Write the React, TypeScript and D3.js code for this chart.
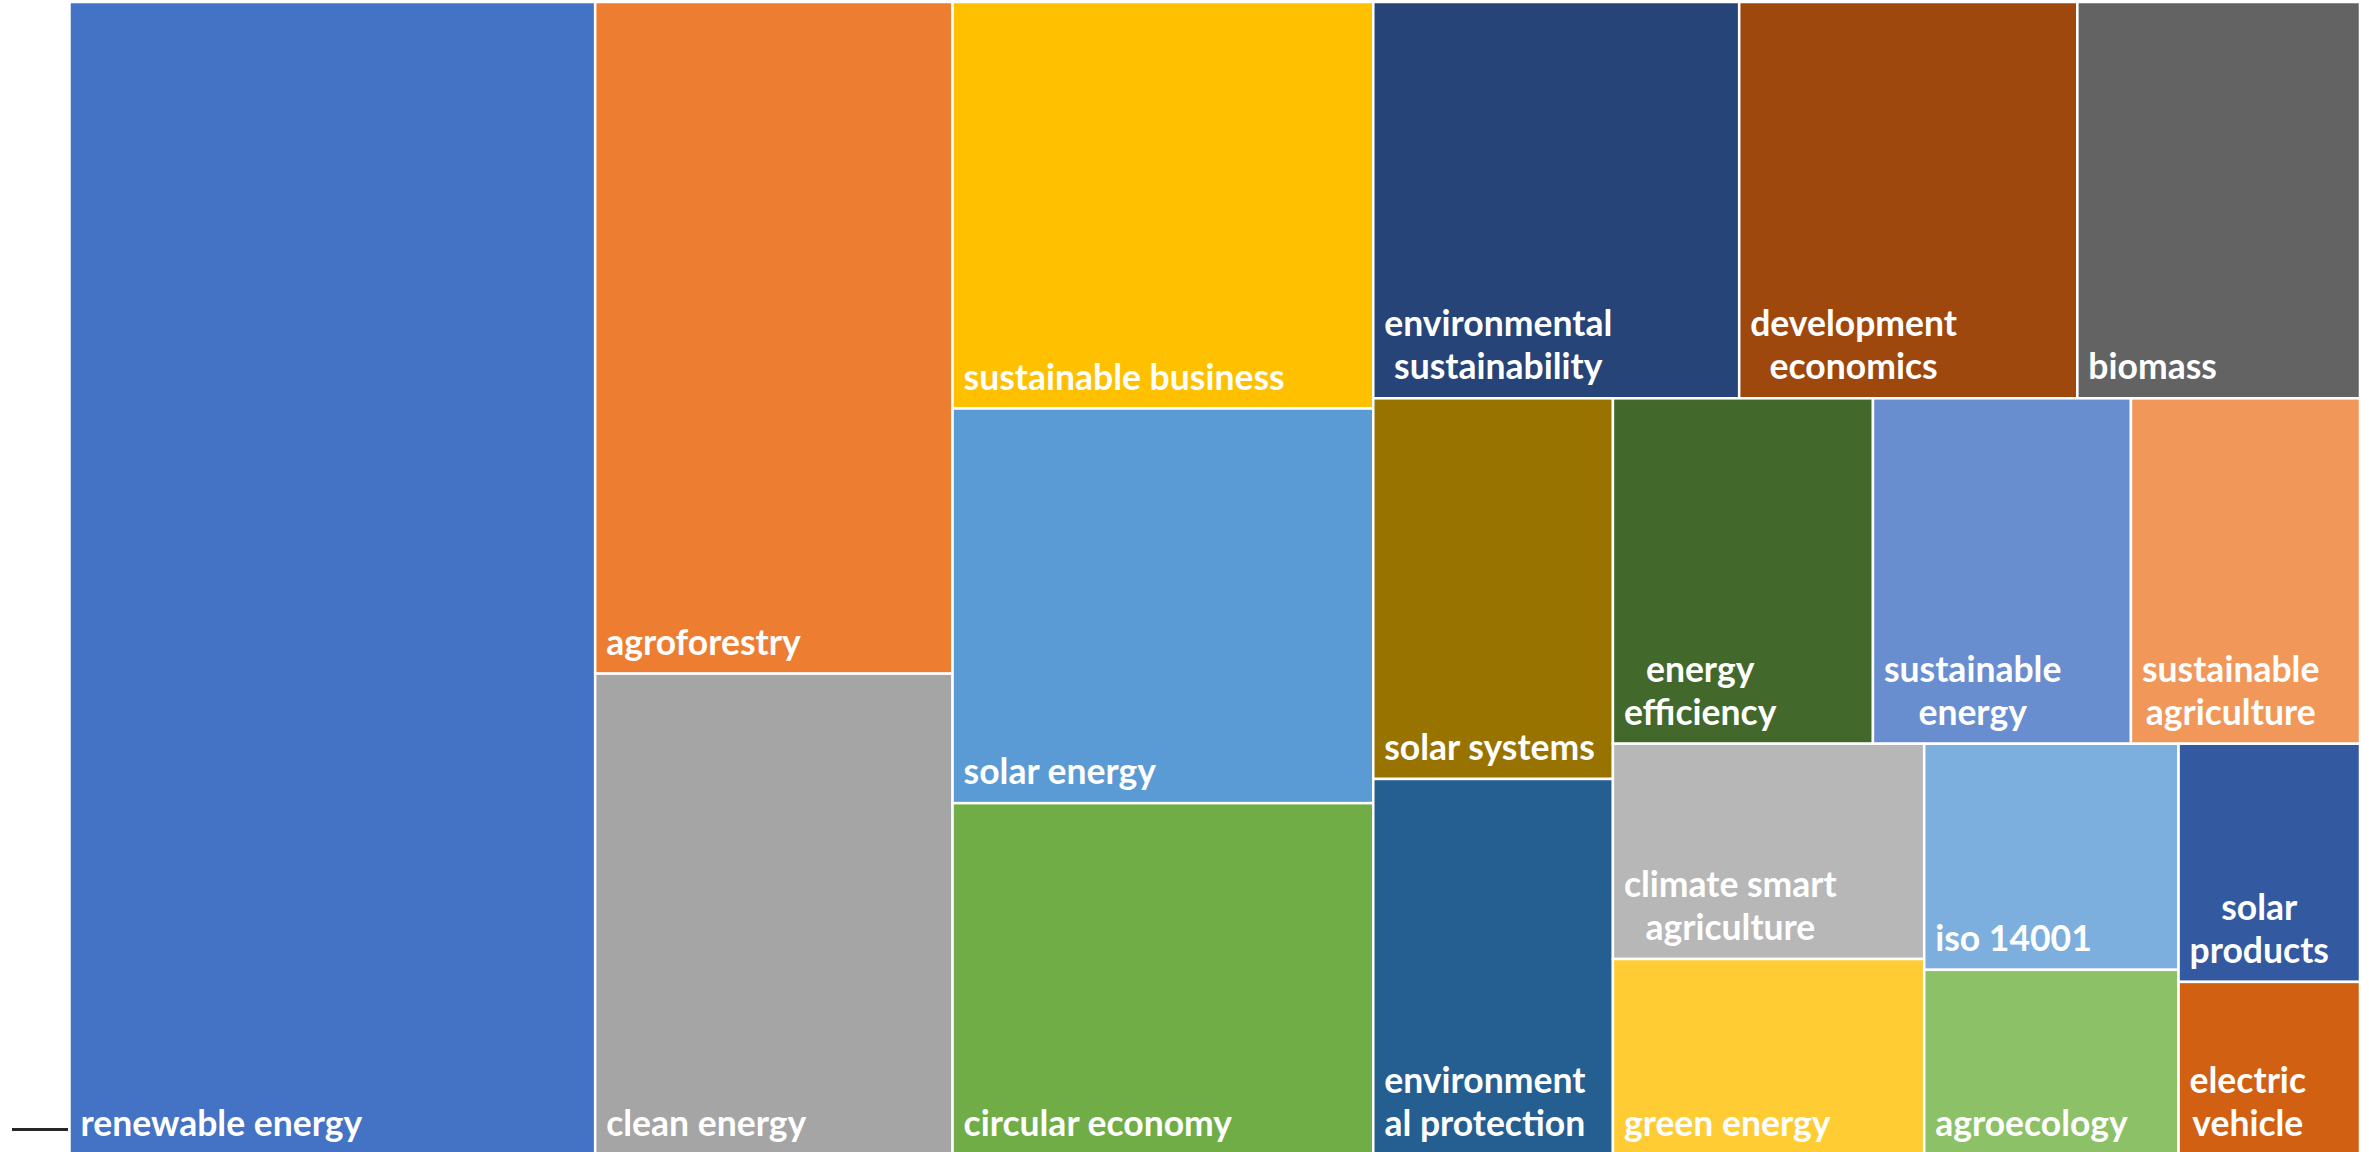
import React, { useEffect, useRef } from "react";
import * as d3 from "d3";

const categories = [
  "renewable energy", "agroforestry", "clean energy", "sustainable business", "solar energy",
  "circular economy", "environmental sustainability", "development economics", "biomass",
  "solar systems", "environmental protection", "energy efficiency", "sustainable energy",
  "sustainable agriculture", "climate smart agriculture", "green energy", "iso 14001",
  "agroecology", "solar products", "electric vehicle",
];

const values = [
  606, 240, 172, 171, 166,
  148, 145, 134, 112,
  91.2, 90.1, 89.8, 89.1,
  79.1, 67, 61, 57.5,
  47.1, 43.2, 31.4,
];

const labelLines = [
  ["renewable energy"], ["agroforestry"], ["clean energy"], ["sustainable business"], ["solar energy"],
  ["circular economy"], ["environmental", "sustainability"], ["development", "economics"], ["biomass"],
  ["solar systems"], ["environment", "al protection"], ["energy", "efficiency"], ["sustainable", "energy"],
  ["sustainable", "agriculture"], ["climate smart", "agriculture"], ["green energy"], ["iso 14001"],
  ["agroecology"], ["solar", "products"], ["electric", "vehicle"],
];

const colors = [
  "#4472C4", "#ED7D31", "#A5A5A5", "#FFC000", "#5B9BD5",
  "#70AD47", "#264478", "#9E480E", "#636363",
  "#997300", "#255E91", "#43682B", "#698ED0",
  "#F1975A", "#B7B7B7", "#FFCD33", "#7CAFDD",
  "#8CC168", "#335AA1", "#D26012",
];

// number of items placed in each successive strip of the tiling
const stripSizes = [1, 2, 3, 3, 2, 3, 2, 2, 1, 1];

function stripTile(parent: any, x0: number, y0: number, x1: number, y1: number) {
  const nodes = parent.children;
  let remaining = d3.sum(nodes, (d: any) => d.value);
  let i = 0;
  for (const k of stripSizes) {
    const row = nodes.slice(i, i + k);
    i += k;
    if (!row.length) break;
    const sum = d3.sum(row, (d: any) => d.value);
    const dx = x1 - x0, dy = y1 - y0;
    if (dx >= dy) {
      const w = remaining ? (dx * sum) / remaining : dx;
      const s = d3.scaleLinear().domain([0, sum]).range([y0, y1]);
      let acc = 0;
      for (const n of row) {
        n.x0 = x0; n.x1 = x0 + w;
        n.y0 = s(acc); acc += n.value; n.y1 = s(acc);
      }
      x0 += w;
    } else {
      const h = remaining ? (dy * sum) / remaining : dy;
      const s = d3.scaleLinear().domain([0, sum]).range([x0, x1]);
      let acc = 0;
      for (const n of row) {
        n.y0 = y0; n.y1 = y0 + h;
        n.x0 = s(acc); acc += n.value; n.x1 = s(acc);
      }
      y0 += h;
    }
    remaining -= sum;
  }
}

const WIDTH = 2369;
const HEIGHT = 1152;
const LEFT = 69.5, TOP = 2, RIGHT = 2360, BOTTOM = 1155;

export default function App() {
  const ref = useRef<SVGSVGElement>(null);

  useEffect(() => {
    const svg = d3.select(ref.current);
    svg.selectAll("*").remove();

    const data = categories.map((name, i) => ({ name, value: values[i], lines: labelLines[i], color: colors[i] }));
    const root = d3.hierarchy<any>({ children: data }).sum((d: any) => d.value || 0);
    d3.treemap<any>().tile(stripTile as any).size([RIGHT - LEFT, BOTTOM - TOP])(root);

    const g = svg.append("g").attr("transform", `translate(${LEFT},${TOP})`);
    const leaves = root.leaves() as any[];

    const cell = g.selectAll("g.cell").data(leaves).join("g").attr("class", "cell");
    cell.append("rect")
      .attr("x", (d) => d.x0).attr("y", (d) => d.y0)
      .attr("width", (d) => d.x1 - d.x0).attr("height", (d) => d.y1 - d.y0)
      .attr("fill", (d) => d.data.color)
      .attr("stroke", "#ffffff").attr("stroke-width", 2.5);

    const fontSize = 35.5;
    const lineH = 43;
    cell.each(function (d: any) {
      const sel = d3.select(this);
      const lines: string[] = d.data.lines;
      const texts = lines.map((ln, j) =>
        sel.append("text")
          .attr("fill", "#ffffff")
          .attr("font-family", "Lato, 'Open Sans', sans-serif")
          .attr("font-weight", 700)
          .attr("font-size", fontSize)
          .attr("y", d.y1 - 19 - (lines.length - 1 - j) * lineH)
          .text(ln)
      );
      const widths = texts.map((t) => (t.node() as SVGTextElement).getComputedTextLength());
      const blockW = Math.max(...widths);
      texts.forEach((t, j) => t.attr("x", d.x0 + 11 + (blockW - widths[j]) / 2));
    });

    // small dark mark at left edge
    svg.append("line")
      .attr("x1", 12).attr("x2", 68).attr("y1", 1129.5).attr("y2", 1129.5)
      .attr("stroke", "#262626").attr("stroke-width", 3);
  }, []);

  return (
    <svg
      ref={ref}
      width={WIDTH}
      height={HEIGHT}
      style={{ position: "absolute", left: 0, top: 0, background: "#ffffff" }}
    />
  );
}
